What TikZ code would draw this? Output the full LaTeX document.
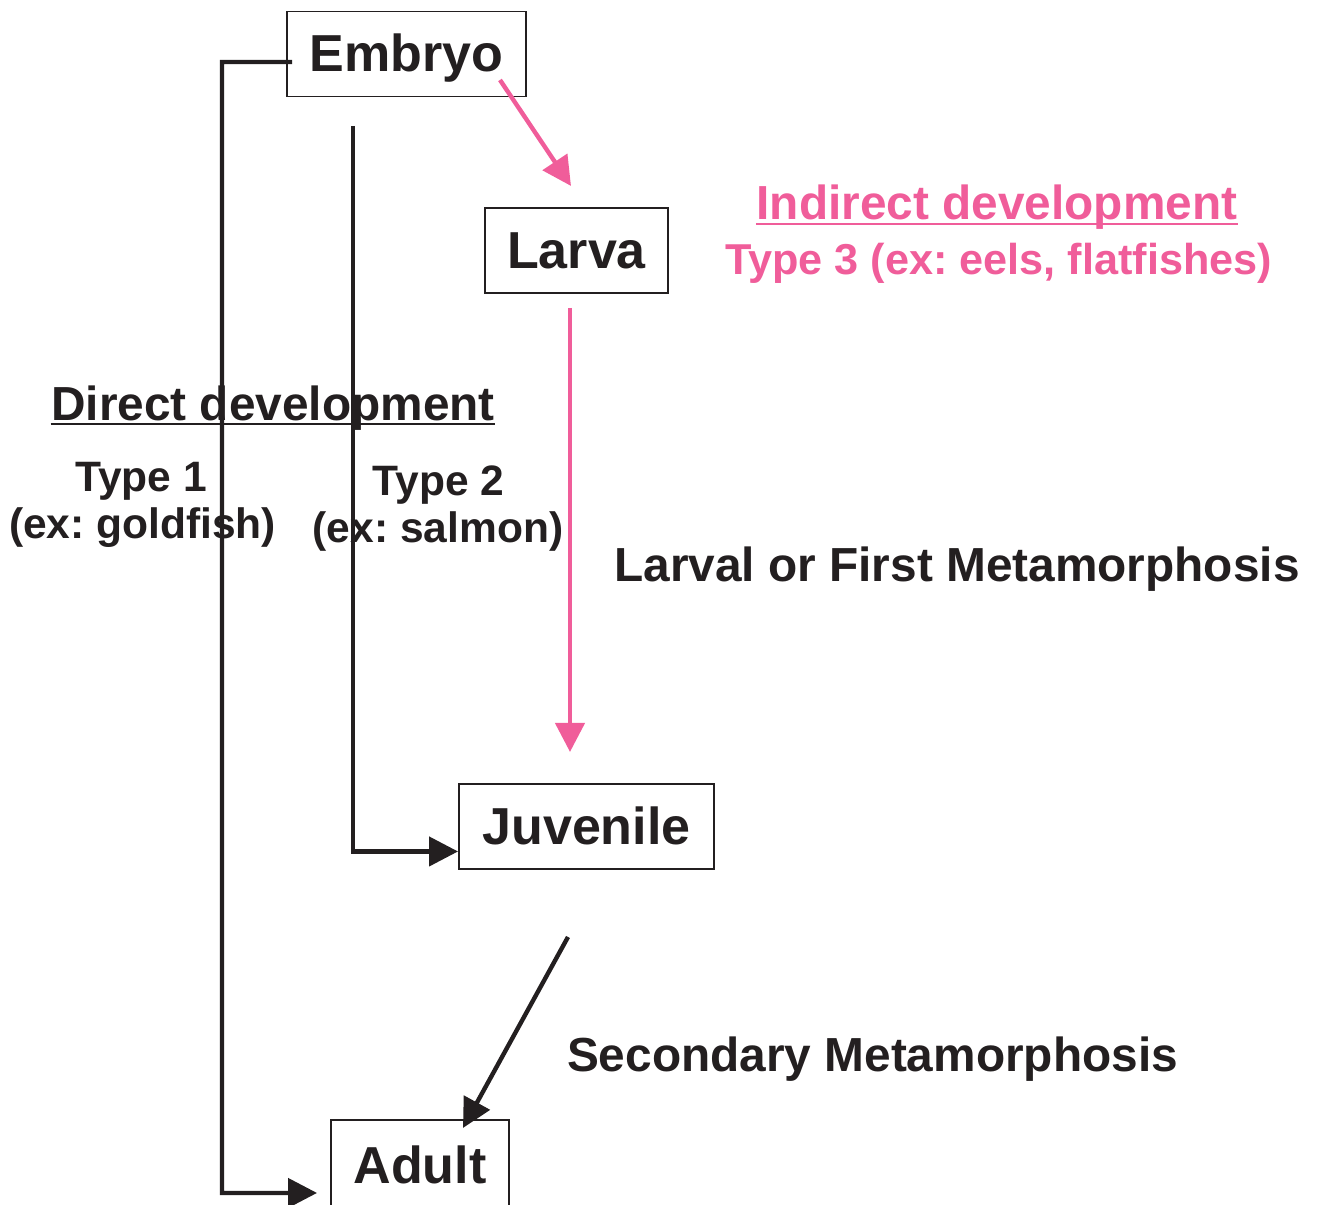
\documentclass[tikz,border=0pt]{standalone}
\usepackage{fontspec}
\setmainfont{Liberation Sans}
\usetikzlibrary{arrows.meta}

\definecolor{devpink}{RGB}{240,93,154}
\definecolor{devblack}{RGB}{35,31,32}

\frenchspacing

\begin{document}
\begin{tikzpicture}[
    stage/.style={draw=devblack, line width=0.55pt, minimum height=0.85cm, inner sep=0pt,
        text height=0.46cm, text depth=0.10cm, text=devblack,
        font=\fontsize{14.8}{17}\selectfont\bfseries},
    devtext/.style={anchor=base, inner sep=0pt, text=devblack,
        font=\fontsize{13.6}{16}\selectfont\bfseries},
    typetext/.style={anchor=base, inner sep=0pt, text=devblack,
        font=\fontsize{12.1}{14}\selectfont\bfseries},
    blackarrow/.style={draw=devblack, line width=1.25pt, -{Triangle[length=0.29cm,width=0.29cm]}},
    pinkarrow/.style={draw=devpink, line width=1.25pt, -{Triangle[length=0.29cm,width=0.29cm]}}
]
    \useasboundingbox (0,0) rectangle (13.21,12.05);

    % Draw the stages
    \node[stage, minimum width=2.39cm] (embryo) at (4.065,11.51) {Embryo};
    \node[stage, minimum width=1.83cm] (larva) at (5.765,9.545) {Larva};
    \node[stage, minimum width=2.55cm] (juvenile) at (5.865,3.785) {Juvenile};
    \node[stage, minimum width=1.78cm, minimum height=0.92cm] (adult) at (4.20,0.39) {Adult};

    % Indirect development (pink)
    \node[devtext, text=devpink] (indirect) at (9.97,9.85) {Indirect development};
    \node[typetext, text=devpink, font=\fontsize{12.3}{14}\selectfont\bfseries] (type3) at (9.985,9.30) {Type 3 (ex: eels, flatfishes)};
    \draw[devpink, line width=0.6pt] ([yshift=-1.2pt]indirect.base west) -- ([yshift=-1.2pt]indirect.base east);

    % Direct development
    \node[devtext] (direct) at (2.73,7.84) {Direct development};
    \draw[devblack, line width=0.6pt] ([yshift=-0.8pt]direct.base west) -- ([yshift=-0.8pt]direct.base east);
    \node[typetext] (type1) at (1.41,7.13) {Type 1};
    \node[typetext] (goldfish) at (1.425,6.66) {(ex: goldfish)};
    \node[typetext] (type2) at (4.385,7.09) {Type 2};
    \node[typetext] (salmon) at (4.38,6.62) {(ex: salmon)};

    % Metamorphosis labels
    \node[devtext] (larval) at (9.57,6.23) {Larval or First Metamorphosis};
    \node[devtext] (secondary) at (8.725,1.33) {Secondary Metamorphosis};

    % Connector ends
    \coordinate (t1start) at ([xshift=0.06cm,yshift=-0.08cm]embryo.west);
    \coordinate (t1bend) at (2.22,11.43);
    \coordinate (t1end) at ([xshift=-0.13cm,yshift=-0.27cm]adult.west);
    \coordinate (t2start) at (3.53,10.79);
    \coordinate (t2end) at ([yshift=-0.25cm]juvenile.west);
    \coordinate (p1start) at (5.00,11.25);
    \coordinate (p1end) at (5.71,10.19);
    \coordinate (p2start) at (5.70,8.97);
    \coordinate (p2end) at (5.70,4.53);
    \coordinate (s2start) at (5.68,2.68);
    \coordinate (s2end) at (4.63,0.77);

    % Type 1 and Type 2 paths
    \draw[blackarrow] (t1start) -- (t1bend) |- (t1end);
    \draw[blackarrow] (t2start) |- (t2end);

    % Type 3 path
    \draw[pinkarrow] (p1start) -- (p1end);
    \draw[pinkarrow] (p2start) -- (p2end);
    \draw[blackarrow] (s2start) -- (s2end);
\end{tikzpicture}
\end{document}
